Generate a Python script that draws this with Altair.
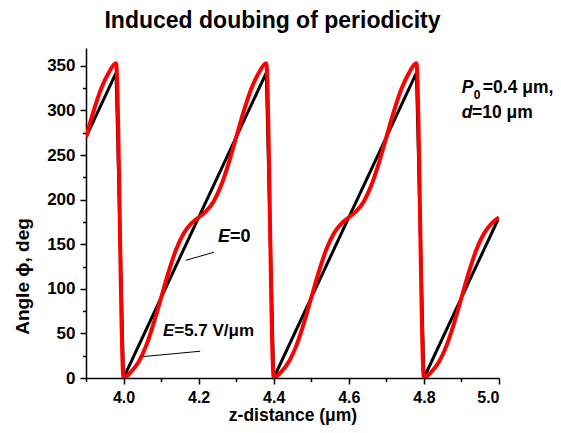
import altair as alt
import pandas as pd

FONT = "Liberation Sans"

# z-distance (µm) samples and angle (deg)
z_red = [3.90, 3.92, 3.94, 3.96, 3.98,
         4.00, 4.02, 4.04, 4.06, 4.08, 4.10, 4.12, 4.14, 4.16, 4.18,
         4.20, 4.22, 4.24, 4.26, 4.28, 4.30, 4.32, 4.34, 4.36, 4.38,
         4.40, 4.42, 4.44, 4.46, 4.48, 4.50, 4.52, 4.54, 4.56, 4.58,
         4.60, 4.62, 4.64, 4.66, 4.68, 4.70, 4.72, 4.74, 4.76, 4.78,
         4.80, 4.82, 4.84, 4.86, 4.88, 4.90, 4.92, 4.94, 4.96, 4.98, 5.00]
phi_red = [270, 299, 324, 342, 353,
           0, 7, 18, 36, 61, 90, 119, 144, 162, 173,
           180, 187, 198, 216, 241, 270, 299, 324, 342, 353,
           0, 7, 18, 36, 61, 90, 119, 144, 162, 173,
           180, 187, 198, 216, 241, 270, 299, 324, 342, 353,
           0, 7, 18, 36, 61, 90, 119, 144, 162, 173, 180]

z_black = [3.90, 3.98, 4.00, 4.38, 4.40, 4.78, 4.80, 5.00]
phi_black = [270, 342, 0, 342, 0, 342, 0, 180]

x_major = [4.0, 4.2, 4.4, 4.6, 4.8, 5.0]
x_minor = [3.9, 4.1, 4.3, 4.5, 4.7, 4.9]
y_major = [0, 50, 100, 150, 200, 250, 300, 350]
y_minor = [25, 75, 125, 175, 225, 275, 325]

# annotation texts and their anchor points (data coordinates)
ann_text = ["E", "=0", "E", "=5.7 V/μm", "P", "0", "=0.4 μm,", "d", "=10 μm"]
ann_z = [4.2515, 4.2835, 4.105, 4.135, 4.901, 4.933, 4.957, 4.901, 4.928]
ann_phi = [158, 158, 53, 53, 325, 317, 325, 297, 297]
lead_z = [4.166, 4.052]
lead_phi = [132, 24]
lead_z2 = [4.241, 4.204]
lead_phi2 = [141, 30]

# text styles (font size, italic) for each annotation piece
ann_size = [18, 18, 17, 17, 17.5, 12, 17.5, 17.5, 17.5]
ann_italic = [True, False, True, False, True, False, False, True, False]

red = pd.DataFrame({"z": z_red, "phi": phi_red})
black = pd.DataFrame({"z": z_black, "phi": phi_black})
ann_df = pd.DataFrame({"z": ann_z, "phi": ann_phi, "t": ann_text})
lead_df = pd.DataFrame({"z": lead_z, "phi": lead_phi, "z2": lead_z2, "phi2": lead_phi2})

xscale = alt.Scale(domain=[3.9, 5.0], nice=False, zero=False)
yscale = alt.Scale(domain=[0, 370], nice=False)

xaxis = alt.Axis(values=x_major, format=".1f", tickSize=6, title="z-distance (μm)", grid=False,
                 labelOverlap=False, labelPadding=5, labelFontSize=16, titlePadding=1,
                 titleFontSize=17.5, orient="bottom")
yaxis = alt.Axis(values=y_major, format="d", tickSize=6, title="Angle ϕ, deg", grid=False,
                 labelOverlap=False, labelPadding=5, orient="left",
                 titleX=-64, titleY=228, titleBaseline="middle")

X = alt.X("z:Q", scale=xscale, axis=xaxis)
Y = alt.Y("phi:Q", scale=yscale, axis=yaxis)
Xn = alt.X("z:Q", scale=xscale)
Yn = alt.Y("phi:Q", scale=yscale)

black_line = alt.Chart(black).mark_line(color="black", strokeWidth=3, clip=True).encode(x=X, y=Y)
red_line = alt.Chart(red).mark_line(color="#ff0000", strokeWidth=4, interpolate="monotone",
                                    clip=True).encode(x=Xn, y=Yn)

leaders = alt.Chart(lead_df).mark_rule(color="black", strokeWidth=1).encode(
    x=Xn, y=Yn, x2="z2:Q", y2="phi2:Q")

text_layers = []
for i in range(len(ann_text)):
    kw = dict(font=FONT, fontWeight="bold", fontSize=ann_size[i], align="left",
              baseline="middle", color="black")
    if ann_italic[i]:
        kw["fontStyle"] = "italic"
    text_layers.append(
        alt.Chart(ann_df.iloc[[i]]).mark_text(**kw).encode(x=Xn, y=Yn, text="t:N")
    )

main = alt.layer(black_line, red_line, leaders, *text_layers)

minor = alt.Chart(red).mark_point(opacity=0).encode(
    x=alt.X("z:Q", scale=xscale, axis=alt.Axis(values=x_minor, labels=False, domain=False, tickSize=3.5,
                                               orient="bottom", title=None, grid=False)),
    y=alt.Y("phi:Q", scale=yscale, axis=alt.Axis(values=y_minor, labels=False, domain=False, tickSize=3.5,
                                                 orient="left", title=None, grid=False)),
)

chart = alt.layer(main, minor).resolve_scale(x="independent", y="independent").properties(
    width=413, height=330,
    autosize=alt.AutoSizeParams(type="none"),
    padding={"left": 78, "top": 40, "right": 54, "bottom": 47},
    title=alt.TitleParams("Induced doubing of periodicity", font=FONT, fontSize=23, fontWeight="bold",
                          anchor="middle", dx=-20, offset=15, color="black"),
).configure(background="white").configure_view(stroke=None).configure_axis(
    labelFont=FONT, labelFontWeight="bold", labelFontSize=17, labelColor="black",
    titleFont=FONT, titleFontWeight="bold", titleFontSize=19, titleColor="black",
    domainColor="black", domainWidth=1.5, tickColor="black", tickWidth=1.5,
)

chart.save("out.html", embed_options={"renderer": "svg", "actions": False})
